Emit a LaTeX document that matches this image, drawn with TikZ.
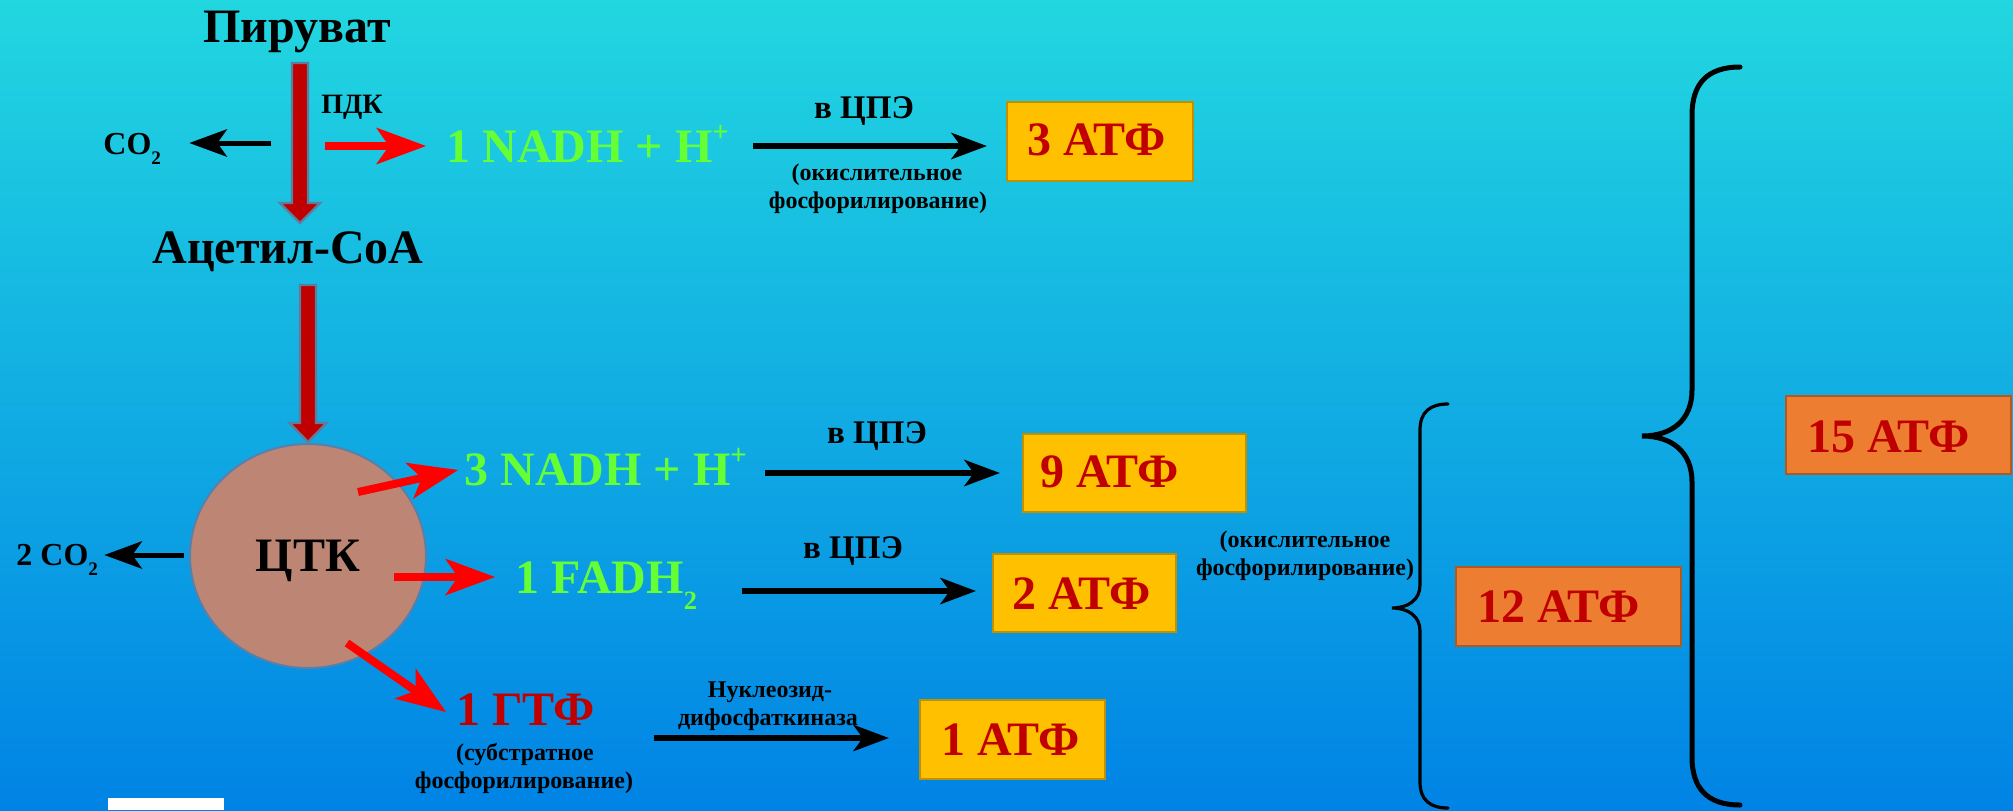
\documentclass[tikz,border=0pt]{standalone}
\usepackage{fontspec}
\usepackage{graphicx}
\setmainfont{Liberation Serif}
\usetikzlibrary{arrows.meta,shapes.geometric,calc}

\definecolor{bgtop}{HTML}{22D7E0}
\definecolor{bgbot}{HTML}{0083E5}
\definecolor{nadhgreen}{HTML}{66FF33}
\definecolor{atpred}{HTML}{C00000}
\definecolor{goldfill}{HTML}{FFC000}
\definecolor{goldline}{HTML}{BF9000}
\definecolor{orangefill}{HTML}{ED7D31}
\definecolor{orangeline}{HTML}{AE5A21}
\definecolor{tcafill}{HTML}{BD8674}
\definecolor{tcaline}{HTML}{5A7FA8}
\definecolor{arrowred}{HTML}{FF0000}
\definecolor{blockred}{HTML}{C00000}
\definecolor{blockedge}{HTML}{5E7C9C}

% lowered / raised small indices
\newcommand\lowidx[2][0.6]{\raisebox{-0.34em}{\scalebox{#1}{#2}}}
\newcommand\upidx[2][0.6]{\raisebox{0.42em}{\scalebox{#1}{#2}}}

% downward block arrow between a top point and its tip
\newcommand\blockdown[4]{%
  \filldraw[blockarrow] ($(#1)+(-8,0)$) -- ($(#1)+(8,0)$) -- ($(#2)+(8,-#4)$)
    -- ($(#2)+(#3,-#4)$) -- (#2) -- ($(#2)+(-#3,-#4)$) -- ($(#2)+(-8,-#4)$) -- cycle;}

\begin{document}
\begin{tikzpicture}[x=0.5pt,y=-0.5pt,
  txt/.style={inner sep=0pt},
  bigtxt/.style={txt, font=\bfseries\fontsize{24}{28}\selectfont},
  midtxt/.style={txt, font=\bfseries\fontsize{16.5}{20}\selectfont},
  pdktxt/.style={txt, font=\bfseries\fontsize{14}{17}\selectfont},
  cotxt/.style={txt, font=\bfseries\fontsize{16}{19}\selectfont},
  smalltxt/.style={txt, font=\bfseries\fontsize{12}{14}\selectfont},
  greentxt/.style={bigtxt, text=nadhgreen},
  redtxt/.style={bigtxt, text=atpred},
  goldbox/.style={draw=goldline, fill=goldfill, line width=1.2pt, inner sep=0pt},
  orangebox/.style={draw=orangeline, fill=orangefill, line width=1.2pt, inner sep=0pt},
  blackarrow/.style={draw=black, line width=3pt,
    -{Stealth[length=18pt,width=13.5pt,inset=5pt,line width=0pt]}},
  coarrow/.style={draw=black, line width=2.5pt,
    -{Stealth[length=19pt,width=14pt,inset=5pt,line width=0pt]}},
  redarrow/.style={draw=arrowred, line width=4pt,
    -{Stealth[length=25pt,width=18.5pt,inset=6.5pt,line width=0pt]}},
  blockarrow/.style={fill=blockred, draw=blockedge, line width=1.2pt, line join=miter},
  bracebig/.style={draw=black, line width=2.5pt, line cap=round},
  bracesmall/.style={draw=black, line width=1.6pt, line cap=round}]

\useasboundingbox (0,0) rectangle (2013,810);
\shade[top color=bgtop, bottom color=bgbot] (0,0) rectangle (2013,810);
\fill[white] (108,798) rectangle (224,810);

% ---- pyruvate dehydrogenase step ----
\node[bigtxt, anchor=base] (pyr) at (297,42) {Пируват};
\node[pdktxt, anchor=base] (pdk) at (352,113) {ПДК};
\node[bigtxt, anchor=base] (acoa) at (288,263) {Ацетил-СоА};
\coordinate (pdhtop) at (300,63);
\coordinate (pdhtip) at (300,223);
\blockdown{pdhtop}{pdhtip}{20}{20}

\node[cotxt, anchor=base west] (co2a) at (103,154) {CO\lowidx{2}};
\coordinate (co2atail) at (271,143);
\draw[coarrow] (co2atail) -- (co2atail -| co2a.east) [shorten >=14pt];
\node[greentxt, anchor=base west] (nadh1) at (446,162) {1 NADH + H\upidx{+}};
\coordinate (red1tail) at (325,146);
\draw[redarrow, shorten >=10pt] (red1tail) -- (red1tail -| nadh1.west);

\node[goldbox, minimum width=93pt, minimum height=39.5pt] (b3) at (1100,141.5) {};
\node[redtxt, anchor=base west] (t3) at (1027,155) {3 АТФ};
\coordinate (blk1tail) at (753,146);
\draw[blackarrow, shorten >=9.5pt] (blk1tail) -- (blk1tail -| b3.west);
\node[midtxt, anchor=base] (cpe1) at (864,118) {в ЦПЭ};
\node[smalltxt, anchor=base] (ox1a) at (877,180) {(окислительное};
\node[smalltxt, anchor=base] (ox1b) at (878,208) {фосфорилирование)};

% ---- citric acid cycle ----
\coordinate (tcatop) at (308,285);
\coordinate (tcatip) at (308,442);
\blockdown{tcatop}{tcatip}{18.5}{19}
\node[ellipse, draw=tcaline, fill=tcafill, line width=1pt, minimum width=118pt,
      minimum height=112pt, inner sep=0pt, font=\bfseries\fontsize{24}{28}\selectfont,
      text depth=0pt] (tca) at (308,556) {ЦТК};

\node[cotxt, anchor=base west] (co2b) at (16,565) {2 CO\lowidx{2}};
\coordinate (co2btail) at (184,555);
\draw[coarrow, shorten >=3pt] (co2btail) -- (co2btail -| co2b.east);

\node[greentxt, anchor=base west] (nadh3) at (464,485) {3 NADH + H\upidx{+}};
\node[greentxt, anchor=base west] (fadh) at (515,593) {1 FADH\lowidx[0.55]{2}};
\node[redtxt, anchor=base west] (gtp) at (456,725) {1 ГТФ};
\node[smalltxt, anchor=base] (sub1) at (525,760) {(субстратное};
\node[smalltxt, anchor=base] (sub2) at (524,788) {фосфорилирование)};

\coordinate (red2tail) at (358,492);
\coordinate (red2tip) at (458,470);
\draw[redarrow] (red2tail) -- (red2tip);
\coordinate (red3tail) at (394,577);
\draw[redarrow, shorten >=10pt] (red3tail) -- (red3tail -| fadh.west);
\coordinate (red4tail) at (347,643);
\coordinate (red4tip) at (446,712);
\draw[redarrow] (red4tail) -- (red4tip);

% ---- electron transport chain and ATP yields ----
\node[goldbox, minimum width=111.5pt, minimum height=39pt] (b9) at (1134.5,473) {};
\node[redtxt, anchor=base west] (t9) at (1040,487) {9 АТФ};
\node[goldbox, minimum width=91.5pt, minimum height=39pt] (b2) at (1084.5,593) {};
\node[redtxt, anchor=base west] (t2) at (1012,609) {2 АТФ};
\node[goldbox, minimum width=92.5pt, minimum height=39.5pt] (b1) at (1012.5,739.5) {};
\node[redtxt, anchor=base west] (t1) at (941,755) {1 АТФ};

\coordinate (blk2tail) at (765,473);
\draw[blackarrow, shorten >=11pt] (blk2tail) -- (blk2tail -| b9.west);
\node[midtxt, anchor=base] (cpe2) at (877,443) {в ЦПЭ};
\coordinate (blk3tail) at (742,591);
\draw[blackarrow, shorten >=8pt] (blk3tail) -- (blk3tail -| b2.west);
\node[midtxt, anchor=base] (cpe3) at (853,558) {в ЦПЭ};
\coordinate (blk4tail) at (654,738);
\draw[blackarrow, shorten >=15pt] (blk4tail) -- (blk4tail -| b1.west);
\node[smalltxt, anchor=base] (ndk1) at (770,697) {Нуклеозид-};
\node[smalltxt, anchor=base] (ndk2) at (768,725) {дифосфаткиназа};

\node[smalltxt, anchor=base] (ox2a) at (1305,547) {(окислительное};
\node[smalltxt, anchor=base] (ox2b) at (1305,575) {фосфорилирование)};

% ---- totals ----
\draw[bracesmall] (1448,404) .. controls (1430,404) and (1420,412) .. (1420,430)
  -- (1420,585) .. controls (1420,600) and (1408,608) .. (1392,608)
  .. controls (1408,608) and (1420,616) .. (1420,631)
  -- (1420,782) .. controls (1420,800) and (1430,808) .. (1448,808);
\node[orangebox, minimum width=112.5pt, minimum height=39.5pt] (b12) at (1568.5,606.5) {};
\node[redtxt, anchor=base west] (t12) at (1477,622) {12 АТФ};

\draw[bracebig] (1740,67) .. controls (1706,67) and (1692,85) .. (1692,115)
  -- (1692,390) .. controls (1692,420) and (1672,436) .. (1642,436)
  .. controls (1672,436) and (1692,452) .. (1692,482)
  -- (1692,757) .. controls (1692,787) and (1706,805) .. (1740,805);
\node[orangebox, minimum width=112.5pt, minimum height=39pt] (b15) at (1898.5,435) {};
\node[redtxt, anchor=base west] (t15) at (1807,452) {15 АТФ};
\end{tikzpicture}
\end{document}
